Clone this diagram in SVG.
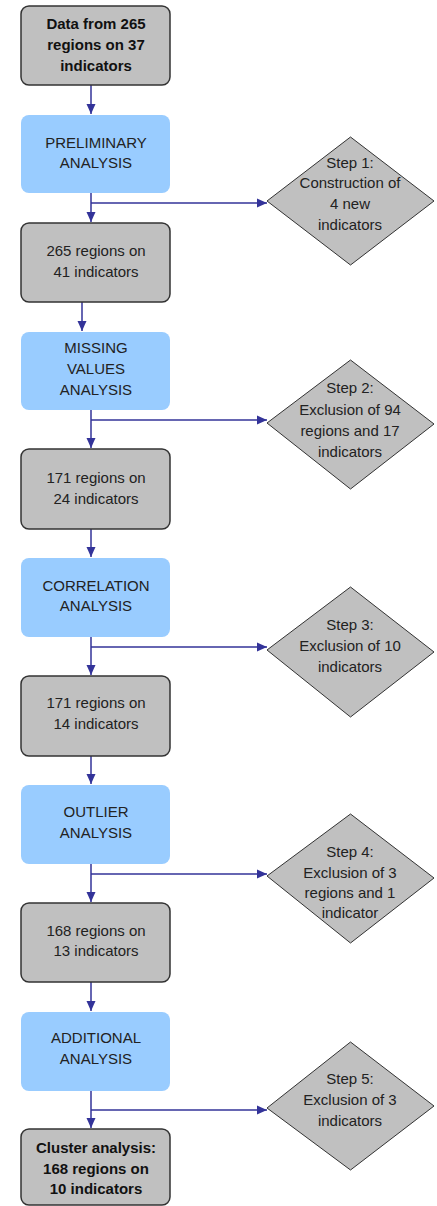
<svg xmlns="http://www.w3.org/2000/svg" width="437" height="1206" viewBox="0 0 437 1206">
<style>
.g{fill:#c0c0c0;stroke:#333;stroke-width:1.5}
.b{fill:#99ccff;stroke:none}
.d{fill:#c0c0c0;stroke:#333;stroke-width:1}
text{font-family:"Liberation Sans",Arial,sans-serif;font-size:15px;fill:#222;text-anchor:middle}
.bold{font-weight:bold;fill:#111}
.c{stroke:#333399;stroke-width:1.5;fill:none}
</style>
<defs>
<marker id="ah" markerUnits="userSpaceOnUse" markerWidth="10" markerHeight="10" refX="10" refY="5" orient="auto">
<path d="M0,0.5 L10,5 L0,9.5 z" fill="#333399"/>
</marker>
</defs>
<g id="connectors">
<path class="c" d="M91,85 V114" marker-end="url(#ah)"/>
<path class="c" d="M91,193 V222" marker-end="url(#ah)"/>
<path class="c" d="M91,203 H267" marker-end="url(#ah)"/>
<path class="c" d="M82,302 V331" marker-end="url(#ah)"/>
<path class="c" d="M91,410 V448" marker-end="url(#ah)"/>
<path class="c" d="M91,420 H267" marker-end="url(#ah)"/>
<path class="c" d="M91,529 V557" marker-end="url(#ah)"/>
<path class="c" d="M91,637 V675" marker-end="url(#ah)"/>
<path class="c" d="M91,647 H267" marker-end="url(#ah)"/>
<path class="c" d="M91,756 V784" marker-end="url(#ah)"/>
<path class="c" d="M91,864 V902" marker-end="url(#ah)"/>
<path class="c" d="M91,874 H267" marker-end="url(#ah)"/>
<path class="c" d="M91,982 V1011" marker-end="url(#ah)"/>
<path class="c" d="M91,1091 V1128" marker-end="url(#ah)"/>
<path class="c" d="M91,1110 H267" marker-end="url(#ah)"/>
</g>
<g id="n1"><rect class="g" x="21" y="6" width="149" height="79" rx="8"/>
<text class="bold" x="96" y="29">Data from 265</text><text class="bold" x="96" y="50">regions on 37</text><text class="bold" x="96" y="71">indicators</text></g>
<g id="n2"><rect class="b" x="21" y="115" width="149" height="78" rx="8"/>
<text x="96" y="148">PRELIMINARY</text><text x="96" y="168">ANALYSIS</text></g>
<g id="s1"><polygon class="d" points="267,201 350.5,137 434,201 350.5,265"/>
<text x="350" y="168">Step 1:</text><text x="350" y="188">Construction of</text><text x="350" y="209">4 new</text><text x="350" y="230">indicators</text></g>
<g id="n3"><rect class="g" x="21" y="223" width="149" height="79" rx="8"/>
<text x="96" y="256">265 regions on</text><text x="96" y="277">41 indicators</text></g>
<g id="n4"><rect class="b" x="21" y="332" width="149" height="78" rx="8"/>
<text x="96" y="353">MISSING</text><text x="96" y="374">VALUES</text><text x="96" y="395">ANALYSIS</text></g>
<g id="s2"><polygon class="d" points="267,423 350.5,360 434,424 350.5,489"/>
<text x="350" y="393">Step 2:</text><text x="350" y="415">Exclusion of 94</text><text x="350" y="436">regions and 17</text><text x="350" y="457">indicators</text></g>
<g id="n5"><rect class="g" x="21" y="449" width="149" height="80" rx="8"/>
<text x="96" y="483">171 regions on</text><text x="96" y="504">24 indicators</text></g>
<g id="n6"><rect class="b" x="21" y="558" width="149" height="79" rx="8"/>
<text x="96" y="591">CORRELATION</text><text x="96" y="611">ANALYSIS</text></g>
<g id="s3"><polygon class="d" points="267,650 350.5,587 434,652 350.5,717"/>
<text x="350" y="630">Step 3:</text><text x="350" y="651">Exclusion of 10</text><text x="350" y="672">indicators</text></g>
<g id="n7"><rect class="g" x="21" y="676" width="149" height="80" rx="8"/>
<text x="96" y="708">171 regions on</text><text x="96" y="729">14 indicators</text></g>
<g id="n8"><rect class="b" x="21" y="785" width="149" height="79" rx="8"/>
<text x="96" y="817">OUTLIER</text><text x="96" y="838">ANALYSIS</text></g>
<g id="s4"><polygon class="d" points="267,876 350.5,814 434,878 350.5,943"/>
<text x="350" y="857">Step 4:</text><text x="350" y="878">Exclusion of 3</text><text x="350" y="898">regions and 1</text><text x="350" y="918">indicator</text></g>
<g id="n9"><rect class="g" x="21" y="903" width="149" height="79" rx="8"/>
<text x="96" y="936">168 regions on</text><text x="96" y="956">13 indicators</text></g>
<g id="n10"><rect class="b" x="21" y="1012" width="149" height="79" rx="8"/>
<text x="96" y="1043">ADDITIONAL</text><text x="96" y="1064">ANALYSIS</text></g>
<g id="s5"><polygon class="d" points="267,1108 350.5,1042 434,1106 350.5,1170"/>
<text x="350" y="1084">Step 5:</text><text x="350" y="1105">Exclusion of 3</text><text x="350" y="1126">indicators</text></g>
<g id="n11"><rect class="g" x="21" y="1129" width="149" height="76" rx="8"/>
<text class="bold" x="96" y="1153">Cluster analysis:</text><text class="bold" x="96" y="1174">168 regions on</text><text class="bold" x="96" y="1194">10 indicators</text></g>
</svg>
